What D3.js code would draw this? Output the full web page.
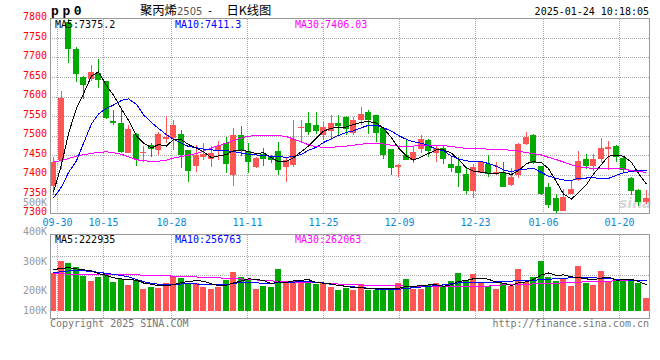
<!DOCTYPE html>
<html><head><meta charset="utf-8">
<script src="https://cdn.jsdelivr.net/npm/d3@7"></script>
<style>
html,body{margin:0;padding:0;background:#fff;}
svg{display:block;}
text{font-family:"DejaVu Sans Mono",monospace;font-size:10px;}
</style></head><body>
<svg id="c" width="660" height="360"></svg>
<script>
// ---------- data ----------
const dates = ["09-27","09-30","10-08","10-09","10-10","10-11","10-14","10-15","10-16","10-17","10-18",
"10-21","10-22","10-23","10-24","10-25","10-28","10-29","10-30","10-31","11-01",
"11-04","11-05","11-06","11-07","11-08","11-11","11-12","11-13","11-14","11-15",
"11-18","11-19","11-20","11-21","11-22","11-25","11-26","11-27","11-28","11-29",
"12-02","12-03","12-04","12-05","12-06","12-09","12-10","12-11","12-12","12-13",
"12-16","12-17","12-18","12-19","12-20","12-23","12-24","12-25","12-26","12-27",
"12-30","12-31","01-02","01-03","01-06","01-07","01-08","01-09","01-10",
"01-13","01-14","01-15","01-16","01-17","01-20","01-21","01-22","01-23","01-24"];

const open = [7370,7436,7791,7723,7650,7646,7659,7639,7537,7531,
7456,7504,7454,7475,7463,7492,7494,7504,7463,7422,
7445,7440,7461,7480,7398,7501,7461,7420,7452,7445,
7461,7420,7424,7518,7531,7528,7501,7512,7533,7548,
7506,7540,7561,7553,7518,7465,7418,7450,7437,7465,
7488,7454,7467,7428,7422,7401,7358,7405,7428,7403,
7407,7373,7398,7478,7501,7423,7368,7340,7307,7351,
7387,7439,7422,7440,7465,7473,7443,7392,7360,7330];
const high = [7445,7614,7800,7728,7652,7680,7696,7641,7565,7565,
7527,7507,7473,7480,7510,7550,7540,7514,7463,7475,
7480,7473,7486,7495,7518,7525,7480,7445,7467,7450,
7484,7445,7540,7540,7561,7561,7535,7552,7552,7550,
7548,7572,7565,7553,7522,7465,7428,7488,7470,7501,
7491,7473,7475,7445,7445,7420,7427,7431,7450,7433,
7431,7416,7481,7510,7504,7423,7377,7349,7362,7384,
7461,7452,7452,7493,7486,7475,7445,7394,7364,7360];
const low = [7347,7415,7687,7637,7593,7640,7622,7542,7527,7455,
7454,7422,7433,7445,7450,7481,7463,7416,7381,7407,
7437,7420,7437,7403,7370,7447,7404,7416,7422,7430,
7398,7381,7420,7480,7501,7505,7488,7488,7501,7501,
7501,7527,7504,7484,7441,7398,7394,7437,7430,7454,
7445,7433,7428,7407,7368,7351,7341,7403,7394,7398,
7367,7370,7392,7475,7428,7347,7313,7300,7307,7350,
7384,7413,7409,7433,7411,7433,7407,7347,7320,7324];
const close = [7433,7596,7721,7657,7630,7663,7643,7546,7531,7458,
7517,7441,7458,7465,7504,7497,7527,7450,7409,7450,
7452,7454,7473,7427,7501,7461,7433,7443,7440,7437,
7411,7437,7491,7522,7510,7512,7522,7533,7525,7517,
7541,7555,7540,7507,7450,7417,7424,7437,7458,7491,
7461,7467,7440,7416,7404,7358,7420,7431,7401,7407,
7368,7394,7478,7495,7430,7351,7321,7307,7343,7362,
7435,7422,7441,7468,7471,7445,7411,7358,7330,7340];

const ma5 = [7355,7425,7505,7570,7607,7653,7663,7628,7603,7568,
7539,7499,7481,7468,7477,7473,7490,7489,7477,7467,
7458,7443,7448,7451,7461,7463,7459,7453,7456,7443,
7433,7434,7443,7459,7473,7494,7511,7519,7520,7522,
7528,7534,7536,7532,7519,7494,7468,7447,7437,7445,
7454,7463,7463,7455,7438,7417,7408,7406,7403,7403,
7405,7400,7410,7428,7433,7430,7415,7381,7350,7337,
7354,7374,7401,7426,7447,7449,7447,7431,7403,7375];
const ma10 = [7340,7368,7405,7435,7480,7530,7555,7570,7578,7590,
7594,7580,7553,7533,7518,7502,7490,7480,7472,7469,
7465,7463,7462,7461,7459,7455,7452,7450,7448,7447,
7446,7444,7446,7452,7462,7470,7482,7492,7500,7508,
7512,7520,7526,7526,7520,7511,7500,7490,7484,7480,
7474,7465,7461,7447,7440,7435,7433,7433,7428,7421,
7412,7407,7412,7414,7416,7405,7396,7390,7386,7385,
7390,7391,7392,7389,7390,7398,7404,7408,7411,7411];
const ma30 = [7432,7436,7441,7447,7451,7454,7457,7458,7456,7452,
7445,7438,7435,7434,7434,7437,7442,7446,7450,7454,
7460,7468,7474,7480,7487,7494,7498,7500,7501,7501,
7500,7497,7491,7484,7476,7471,7470,7470,7471,7473,
7475,7478,7479,7480,7478,7475,7473,7473,7473,7474,
7475,7475,7474,7472,7469,7467,7467,7466,7465,7464,
7464,7462,7460,7456,7453,7450,7444,7438,7432,7425,
7420,7417,7416,7416,7416,7416,7414,7410,7407,7406];

const volume = [320000,425000,405000,371000,298000,255000,289000,320000,247000,269000,
221000,264000,187000,201000,196000,235000,298000,281000,241000,241000,
204000,187000,204000,264000,334000,289000,272000,187000,215000,204000,
357000,255000,249000,241000,235000,227000,235000,207000,179000,193000,
179000,230000,179000,179000,179000,179000,241000,272000,187000,187000,
221000,241000,215000,255000,323000,264000,315000,235000,213000,187000,
235000,213000,357000,249000,292000,425000,292000,255000,272000,213000,
385000,241000,221000,340000,255000,255000,255000,255000,241000,113000];
const volMa5 = [352000,362000,368000,358000,350000,340000,318000,303000,282000,272000,
266000,262000,238000,228000,214000,217000,223000,242000,250000,259000,
253000,231000,215000,220000,239000,256000,273000,269000,259000,233000,
247000,244000,256000,261000,267000,241000,237000,229000,217000,208000,
199000,198000,192000,192000,189000,189000,191000,210000,212000,213000,
222000,222000,210000,224000,251000,260000,274000,278000,270000,243000,
237000,217000,241000,248000,269000,307000,323000,303000,307000,291000,
283000,273000,266000,280000,288000,262000,265000,269000,252000,222935];
const volMa10 = [325000,335000,340000,342000,342000,336000,328000,320000,312000,302000,
290000,268000,250000,235000,228000,224000,222000,230000,232000,230000,
226000,222000,222000,225000,235000,242000,245000,240000,234000,236000,
240000,242000,246000,249000,248000,244000,238000,226000,218000,210000,
205000,200000,192000,186000,182000,180000,184000,192000,198000,204000,
210000,215000,222000,232000,238000,240000,242000,243000,244000,247000,
250000,254000,258000,260000,262000,265000,270000,275000,278000,282000,
286000,285000,282000,278000,275000,270000,265000,262000,259000,256763];
const volMa30 = [315000,315000,314000,313000,312000,312000,312000,311000,310000,310000,
309000,307000,305000,303000,300000,298000,297000,295000,292000,289000,
286000,283000,281000,279000,276000,272000,268000,264000,260000,256000,
252000,249000,247000,245000,243000,241000,238000,232000,229000,225000,
223000,221000,221000,220000,219000,217000,214000,211000,209000,208000,
207000,207000,207000,207000,208000,208000,209000,210000,212000,218000,
222000,224000,226000,228000,230000,232000,234000,236000,240000,242000,
245000,248000,250000,252000,254000,256000,258000,260000,261000,262063];

const priceTicks = [7300,7350,7400,7450,7500,7550,7600,7650,7700,7750,7800];
const dateTicks = ["09-30","10-15","10-28","11-11","11-25","12-09","12-23","01-06","01-20"];
const volTickValues = [500000,400000,300000,200000,100000];
const volTickLabels = ["500K","400K","300K","200K","100K"];
const priceLegend = ["MA5:7375.2","MA10:7411.3","MA30:7406.03"];
const volLegend = ["MA5:222935","MA10:256763","MA30:262063"];
const titleParts = ["聚丙烯","2505","-","日K线图"];
const symbolText = "pp0";
const timeText = "2025-01-24 10:18:05";

// ---------- layout ----------
const L = 50, R = 649.5, T = 18.5, B = 213.5;
const VT = 234.5, VB = 318.5, V0 = 311;
const RED = "#ff5555", GREEN = "#00aa00";
const legendX = [55, 175, 295];
const legendColor = ["#000", "#0000ff", "#ff00ff"];

const svg = d3.select("#c");
const xb = d3.scaleBand().domain(dates).range([49.25, 649.25]).paddingInner(0.2).paddingOuter(0.1);
const xg = d3.scalePoint().domain(dates).range([50, 650]);
const y = d3.scaleLinear().domain([7300, 7800]).range([B, T]);
const yv = d3.scaleLinear().domain([0, 650000]).range([V0, V0 - 650000 / 8500]);
const yvLabel = d3.scaleLinear().domain([100000, 200000, 500000]).range([314, 294, 205.5]);
const yvGrid = d3.scaleLinear().domain([0, 4]).range([314, 236]);

const idx = d3.range(dates.length);
const cx = i => Math.round(xb(dates[i])) + 3;
const col = i => close[i] >= open[i] ? RED : GREEN;
const gx = d => Math.floor(xg(d)) + 0.5;

// ---------- grids ----------
const grid = svg.append("g").attr("stroke", "#aaa").attr("stroke-dasharray", "1,1").attr("shape-rendering", "crispEdges");
grid.selectAll(".hg").data(priceTicks.slice(1, -1)).join("line")
  .attr("x1", L).attr("x2", R).attr("y1", d => Math.round(y(d)) + 0.5).attr("y2", d => Math.round(y(d)) + 0.5);
grid.selectAll(".vg").data(dateTicks).join("line")
  .attr("x1", gx).attr("x2", gx).attr("y1", T).attr("y2", B);
grid.selectAll(".vgv").data(dateTicks).join("line")
  .attr("x1", gx).attr("x2", gx).attr("y1", VT).attr("y2", VB);
grid.selectAll(".hgv").data([2, 3]).join("line")
  .attr("x1", L).attr("x2", R).attr("y1", d => Math.round(yvGrid(d)) + 0.5).attr("y2", d => Math.round(yvGrid(d)) + 0.5);

// watermark
svg.append("text").attr("x", 619).attr("y", 208).text("sina")
  .style("font-family", "DejaVu Sans").style("font-size", "14px").style("font-style", "italic")
  .style("font-weight", "bold").attr("fill", "#d6d6d6");

// ---------- candles ----------
const cg = svg.append("g").attr("shape-rendering", "crispEdges");
cg.selectAll(".wick").data(idx).join("line")
  .attr("x1", i => cx(i) + 0.5).attr("x2", i => cx(i) + 0.5)
  .attr("y1", i => y(high[i])).attr("y2", i => y(low[i]))
  .attr("stroke", col).attr("stroke-width", 1);
cg.selectAll(".body").data(idx).join("rect")
  .attr("x", i => Math.round(xb(dates[i])))
  .attr("width", xb.bandwidth())
  .attr("y", i => y(Math.max(open[i], close[i])))
  .attr("height", i => Math.max(1.2, Math.abs(y(open[i]) - y(close[i]))))
  .attr("fill", col);

// ---------- MA lines ----------
const lineP = arr => d3.line().x((d, i) => cx(i) + 0.5).y(d => y(d))(arr);
const lineV = arr => d3.line().x((d, i) => cx(i) + 0.5).y(d => yv(d))(arr);
[ma30, ma10, ma5].forEach((a, k) => {
  svg.append("path").attr("d", lineP(a)).attr("fill", "none")
    .attr("stroke", ["#ff00ff", "#0000ff", "#000"][k]).attr("stroke-width", 1)
    .attr("shape-rendering", "crispEdges");
});

// ---------- volume bars ----------
const vg = svg.append("g").attr("shape-rendering", "crispEdges");
vg.selectAll("rect").data(idx).join("rect")
  .attr("x", i => Math.round(xb(dates[i])))
  .attr("width", xb.bandwidth())
  .attr("y", i => yv(volume[i]))
  .attr("height", i => yv(0) - yv(volume[i]))
  .attr("fill", col);
[volMa30, volMa10, volMa5].forEach((a, k) => {
  svg.append("path").attr("d", lineV(a)).attr("fill", "none")
    .attr("stroke", ["#ff00ff", "#0000ff", "#000"][k]).attr("stroke-width", 1)
    .attr("shape-rendering", "crispEdges");
});

// ---------- borders ----------
const bd = svg.append("g").attr("fill", "none").attr("stroke", "#999").attr("shape-rendering", "crispEdges");
bd.append("rect").attr("x", L + 0.5).attr("y", T).attr("width", R - L - 0.5).attr("height", B - T);
bd.append("rect").attr("x", L + 0.5).attr("y", VT).attr("width", R - L - 0.5).attr("height", VB - VT);

// ---------- axes text ----------
svg.selectAll(".pl").data(priceTicks).join("text")
  .attr("x", 47).attr("y", d => y(d) + 1.5).attr("text-anchor", "end").attr("fill", "#ff0000").text(d => d);
svg.selectAll(".dl").data(dateTicks).join("text")
  .attr("x", gx).attr("y", 225.5).attr("text-anchor", "middle").attr("fill", "#0a88d8").text(d => d);
svg.selectAll(".vl").data(volTickValues).join("text")
  .attr("x", 47).attr("y", d => yvLabel(d)).attr("text-anchor", "end").attr("fill", "#999")
  .text((d, i) => volTickLabels[i]);

// legends
svg.selectAll(".lg").data(priceLegend).join("text")
  .attr("x", (d, i) => legendX[i]).attr("y", 27.5).attr("fill", (d, i) => legendColor[i]).text(d => d);
svg.selectAll(".lgv").data(volLegend).join("text")
  .attr("x", (d, i) => legendX[i]).attr("y", 242.5).attr("fill", (d, i) => legendColor[i]).text(d => d);

// header
svg.append("text").attr("x", 51).attr("y", 15).text(symbolText)
  .style("font-family", "Liberation Mono").style("font-size", "13px").style("font-weight", "bold")
  .style("letter-spacing", "3.6px").attr("fill", "#000");
const cjk = "'Noto Sans CJK SC'";
svg.append("text").attr("x", 140).attr("y", 15).text(titleParts[0])
  .style("font-family", cjk).style("font-size", "12.3px").attr("fill", "#000");
svg.append("text").attr("x", 177).attr("y", 14.5).text(titleParts[1])
  .style("font-family", "DejaVu Sans").style("font-size", "10px").attr("fill", "#555");
svg.append("text").attr("x", 207).attr("y", 14).text(titleParts[2]).attr("fill", "#000");
svg.append("text").attr("x", 226.5).attr("y", 15).text(titleParts[3])
  .style("font-family", cjk).style("font-size", "12.3px").attr("fill", "#000");
svg.append("text").attr("x", 649).attr("y", 15).attr("text-anchor", "end").text(timeText).attr("fill", "#000");

// footer
svg.append("text").attr("x", 50).attr("y", 326.5).text("Copyright 2025 SINA.COM").attr("fill", "#777");
svg.append("text").attr("x", 649).attr("y", 326.5).attr("text-anchor", "end").text("http://finance.sina.com.cn").attr("fill", "#777");
</script>
</body></html>
